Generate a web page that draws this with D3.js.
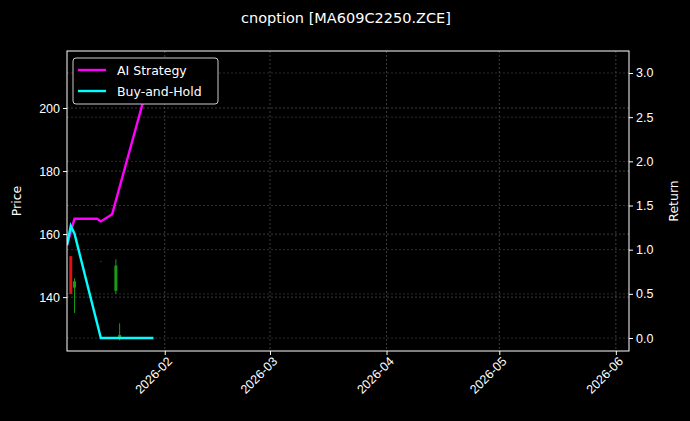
<!DOCTYPE html><html><head><meta charset="utf-8"><script src="https://cdn.jsdelivr.net/npm/d3@7"></script>
<style>body{margin:0;background:#000}svg{font-family:"DejaVu Sans",sans-serif}</style></head><body><svg id="c" width="690" height="421"></svg>
<script>
const bhDates=["2026-01-06","2026-01-07","2026-01-08","2026-01-15","2026-01-20","2026-01-25","2026-01-29"];
const bhValues=[1.05,1.27,1.18,0.0,0.0,0.0,0.0];
const aiDates=["2026-01-06","2026-01-08","2026-01-14","2026-01-15","2026-01-18","2026-01-29"];
const aiValues=[1.05,1.35,1.35,1.32,1.40,3.1];
const candleDates=["2026-01-07","2026-01-08","2026-01-14","2026-01-15","2026-01-19","2026-01-20"];
const candleOpen=[153,143,169.2,151.4,142,127];
const candleClose=[141,145,169,151.2,150,128];
const candleHigh=[153,146,169.3,151.5,152,131.7];
const candleLow=[141,135,168.9,151.1,141,126.3];
const priceTicks=[140,160,180,200];
const returnTicks=[0,0.5,1,1.5,2,2.5,3];
const monthTicks=["2026-02-01","2026-03-01","2026-04-01","2026-05-01","2026-06-01"];
const p=d3.timeParse("%Y-%m-%d");
const L=67,R=629,T=51,B=351;
const svg=d3.select("#c");
svg.append("rect").attr("width",690).attr("height",421).attr("fill","#000");
const x=d3.scaleTime().domain([p("2026-01-06"),new Date(2026,5,4,12)]).range([L,R]);
const yP=d3.scaleLinear().domain([122.9,218.1]).range([B,T]);
const yR=d3.scaleLinear().domain([-0.147,3.249]).range([B,T]);
const g=svg.append("g");
monthTicks.forEach(m=>g.append("line").attr("x1",x(p(m))).attr("x2",x(p(m))).attr("y1",T).attr("y2",B).attr("stroke","#666").attr("stroke-width",0.6).attr("stroke-dasharray","2,2"));
priceTicks.forEach(v=>g.append("line").attr("x1",L).attr("x2",R).attr("y1",yP(v)).attr("y2",yP(v)).attr("stroke","#666").attr("stroke-width",0.6).attr("stroke-dasharray","2,2"));
returnTicks.forEach(v=>g.append("line").attr("x1",L).attr("x2",R).attr("y1",yR(v)).attr("y2",yR(v)).attr("stroke","#4a4a4a").attr("stroke-width",0.6).attr("stroke-dasharray","2,2"));
candleDates.forEach((d,i)=>{const c=candleClose[i]>=candleOpen[i]?"#1a9a1a":"#e01010";const cx=x(p(d));
g.append("line").attr("x1",cx).attr("x2",cx).attr("y1",yP(candleHigh[i])).attr("y2",yP(candleLow[i])).attr("stroke",c).attr("stroke-width",1);
const h=Math.abs(yP(candleOpen[i])-yP(candleClose[i]));
if(h>1.5)g.append("rect").attr("x",cx-1.5).attr("width",3).attr("y",yP(Math.max(candleOpen[i],candleClose[i]))).attr("height",h).attr("fill",c);});
svg.append("clipPath").attr("id","cl").append("rect").attr("x",L).attr("y",T).attr("width",R-L).attr("height",B-T);
const line=d3.line().x(d=>x(d[0])).y(d=>yR(d[1]));
const lg=svg.append("g").attr("clip-path","url(#cl)");
lg.append("path").attr("d",line(aiDates.map((d,i)=>[p(d),aiValues[i]]))).attr("fill","none").attr("stroke","#ff00ff").attr("stroke-width",2.4);
lg.append("path").attr("d",line(bhDates.map((d,i)=>[p(d),bhValues[i]]))).attr("fill","none").attr("stroke","#00ffff").attr("stroke-width",2.4);
svg.append("rect").attr("x",L).attr("y",T).attr("width",R-L).attr("height",B-T).attr("fill","none").attr("stroke","#fff").attr("stroke-width",1);
const ax=svg.append("g").attr("transform",`translate(0,${B})`).call(d3.axisBottom(x).tickValues(monthTicks.map(p)).tickFormat(d3.timeFormat("%Y-%m")).tickSize(4));
ax.selectAll("text").attr("transform","rotate(-45)").style("text-anchor","end").attr("dx","-0.2em").attr("dy","0.5em");
const al=svg.append("g").attr("transform",`translate(${L},0)`).call(d3.axisLeft(yP).tickValues(priceTicks).tickSize(4));
const ar=svg.append("g").attr("transform",`translate(${R},0)`).call(d3.axisRight(yR).tickValues(returnTicks).tickFormat(d3.format(".1f")).tickSize(4));
[ax,al,ar].forEach(a=>{a.select(".domain").remove();a.selectAll("line").attr("stroke","#fff");a.selectAll("text").attr("fill","#fff").style("font-size","12.5px");});
svg.append("text").attr("x",346).attr("y",23).attr("text-anchor","middle").attr("fill","#fff").style("font-size","14.5px").text("cnoption [MA609C2250.ZCE]");
svg.append("text").attr("transform",`translate(21,${(T+B)/2}) rotate(-90)`).attr("text-anchor","middle").attr("fill","#fff").style("font-size","12.5px").text("Price");
svg.append("text").attr("transform",`translate(678,${(T+B)/2}) rotate(-90)`).attr("text-anchor","middle").attr("fill","#fff").style("font-size","12.5px").text("Return");
const leg=svg.append("g");
leg.append("rect").attr("x",73).attr("y",58).attr("width",145).attr("height",46).attr("rx",3).attr("fill","#000").attr("stroke","#ccc").attr("stroke-width",1);
[["AI Strategy","#ff00ff"],["Buy-and-Hold","#00ffff"]].forEach((e,i)=>{const yy=70+i*21;
leg.append("line").attr("x1",78).attr("x2",106).attr("y1",yy).attr("y2",yy).attr("stroke",e[1]).attr("stroke-width",2.4);
leg.append("text").attr("x",117).attr("y",yy+4.5).attr("fill","#fff").style("font-size","12.5px").text(e[0]);});
</script></body></html>
